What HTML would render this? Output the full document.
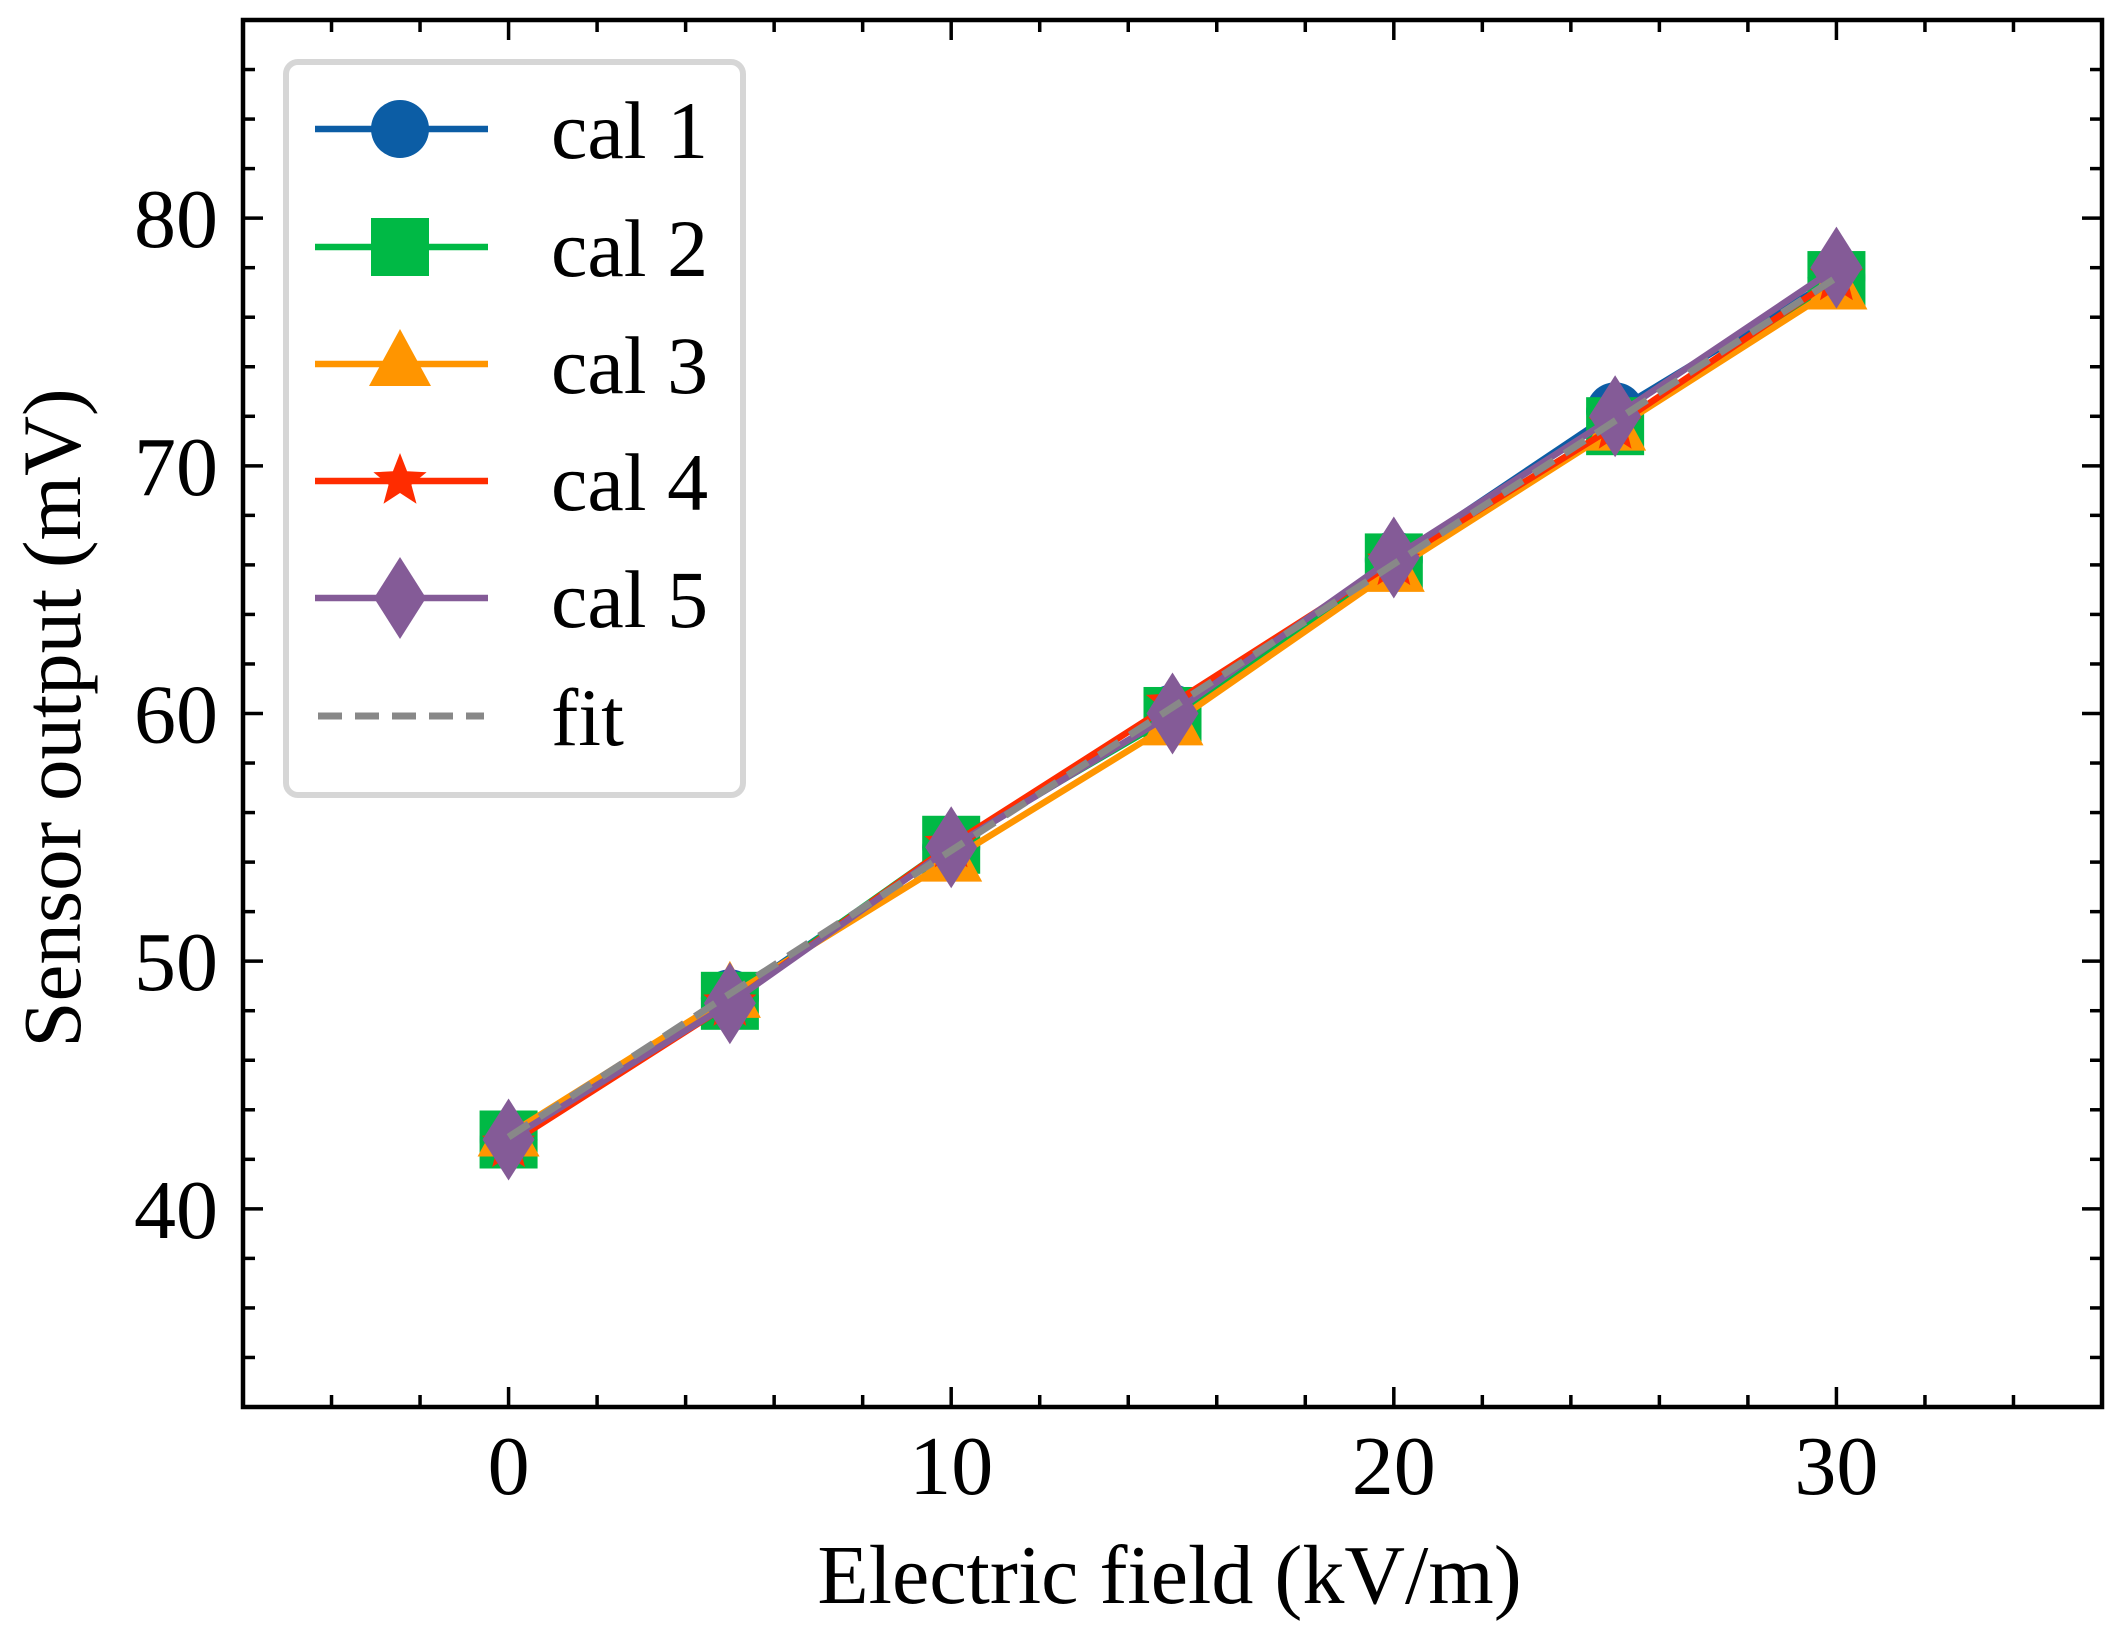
<!DOCTYPE html>
<html><head><meta charset="utf-8"><style>
html,body{margin:0;padding:0;background:#fff;}
svg{display:block;font-family:"Liberation Serif",serif;}
</style></head><body>
<svg id="chart" width="2126" height="1636" viewBox="0 0 2126 1636" xmlns="http://www.w3.org/2000/svg">
<g id="marks"></g>
<g id="axes"></g>
<g id="legend"></g>
</svg>
<script>
const xValues = [0, 5, 10, 15, 20, 25, 30];
const cal1 = [42.8, 48.5, 54.6, 60.0, 66.2, 72.2, 77.6];
const cal2 = [42.8, 48.4, 54.7, 59.9, 66.1, 71.6, 77.5];
const cal3 = [43.0, 48.6, 54.1, 59.6, 65.8, 71.5, 77.2];
const cal4 = [42.6, 48.3, 54.7, 60.4, 66.1, 71.6, 77.6];
const cal5 = [42.8, 48.3, 54.6, 60.0, 66.3, 72.0, 78.0];
const fitX = [0, 30];
const fitY = [42.9, 77.6];
const seriesNames = ["cal 1", "cal 2", "cal 3", "cal 4", "cal 5"];
const xTicks = [0, 10, 20, 30];
const yTicks = [40, 50, 60, 70, 80];

const NS = "http://www.w3.org/2000/svg";
const L = 243, R = 2102, T = 20, B = 1407;
const XMIN = -6, XMAX = 36, YMIN = 32, YMAX = 88;
function sx(v){ return L + (v - XMIN) * (R - L) / (XMAX - XMIN); }
function sy(v){ return B - (v - YMIN) * (B - T) / (YMAX - YMIN); }
function mk(tag, attrs, parent){
  const e = document.createElementNS(NS, tag);
  for (const k in attrs) e.setAttribute(k, attrs[k]);
  parent.appendChild(e); return e;
}
const colors = ["#0C5DA5", "#00B945", "#FF9500", "#FF2C00", "#845B97"];
const shapes = ["circle", "square", "triangle", "star", "diamond"];
function marker(shape, cx, cy, color, parent){
  let el;
  if (shape === "circle") el = mk("circle", {cx: cx, cy: cy, r: 29, fill: color}, parent);
  else if (shape === "square") el = mk("rect", {x: cx-29, y: cy-29, width: 58, height: 58, fill: color}, parent);
  else if (shape === "triangle") el = mk("polygon", {points: `${cx},${cy-35} ${cx+31},${cy+22} ${cx-31},${cy+22}`, fill: color}, parent);
  else if (shape === "star") {
    let p = [];
    for (let i = 0; i < 10; i++) {
      const r = i % 2 ? 12 : 28, a = -Math.PI/2 + i*Math.PI/5;
      p.push((cx + r*Math.cos(a)).toFixed(1) + "," + (cy + r*Math.sin(a)).toFixed(1));
    }
    el = mk("polygon", {points: p.join(" "), fill: color}, parent);
  } else el = mk("polygon", {points: `${cx},${cy-41} ${cx+26},${cy} ${cx},${cy+41} ${cx-26},${cy}`, fill: color}, parent);
  return el;
}
const marks = document.getElementById("marks");
const allSeries = [cal1, cal2, cal3, cal4, cal5];
allSeries.forEach((ys, si) => {
  const g = mk("g", {}, marks);
  
  
  const pts = ys.map((y, i) => sx(xValues[i]).toFixed(1) + "," + sy(y).toFixed(1)).join(" ");
  const line = mk("polyline", {points: pts, fill: "none", stroke: colors[si], "stroke-width": 6.5, "stroke-linejoin": "round"}, g);
  
  
  ys.forEach((y, i) => {
    const m = marker(shapes[si], sx(xValues[i]), sy(y), colors[si], g);
    
    
  });
});
const fit = mk("line", {x1: sx(fitX[0]), y1: sy(fitY[0]), x2: sx(fitX[1]), y2: sy(fitY[1]), stroke: "#888888", "stroke-width": 7, "stroke-dasharray": "24,13"}, marks);



const axes = document.getElementById("axes");
const frame = mk("rect", {x: L, y: T, width: R-L, height: B-T, fill: "none", stroke: "#000", "stroke-width": 4.5}, axes);


for (let v = -4; v <= 34; v += 2) {
  const major = v % 10 === 0, len = major ? 20 : 12;
  mk("line", {x1: sx(v), y1: B, x2: sx(v), y2: B-len, stroke: "#000", "stroke-width": 3.5}, axes);
  mk("line", {x1: sx(v), y1: T, x2: sx(v), y2: T+len, stroke: "#000", "stroke-width": 3.5}, axes);
}
for (let v = 34; v <= 86; v += 2) {
  const major = v % 10 === 0, len = major ? 20 : 12;
  mk("line", {x1: L, y1: sy(v), x2: L+len, y2: sy(v), stroke: "#000", "stroke-width": 3.5}, axes);
  mk("line", {x1: R, y1: sy(v), x2: R-len, y2: sy(v), stroke: "#000", "stroke-width": 3.5}, axes);
}
xTicks.forEach(v => {
  const t = mk("text", {x: sx(v), y: 1494, "font-size": 84, "text-anchor": "middle", fill: "#000"}, axes);
  t.textContent = v;
  
  
});
yTicks.forEach(v => {
  const t = mk("text", {x: 218, y: sy(v) + 29, "font-size": 84, "text-anchor": "end", fill: "#000"}, axes);
  t.textContent = v;
  
  
});
const xl = mk("text", {x: (L+R)/2 - 3, y: 1603, "font-size": 84, "text-anchor": "middle", fill: "#000"}, axes);
xl.textContent = "Electric field (kV/m)";


const yl = mk("text", {x: 0, y: 0, "font-size": 83, "text-anchor": "middle", fill: "#000", transform: "translate(80,718) rotate(-90)"}, axes);
yl.textContent = "Sensor output (mV)";



const legend = document.getElementById("legend");
const box = mk("rect", {x: 286, y: 62, width: 457, height: 733, rx: 12, fill: "#fff", stroke: "#d6d6d6", "stroke-width": 6}, legend);


const ly = [129, 247, 364, 481, 598, 716];
seriesNames.concat(["fit"]).forEach((name, i) => {
  const g = mk("g", {}, legend);
  
  
  if (i < 5) {
    mk("line", {x1: 315, y1: ly[i], x2: 488, y2: ly[i], stroke: colors[i], "stroke-width": 6.5}, g);
    marker(shapes[i], 400, ly[i], colors[i], g);
  } else {
    mk("line", {x1: 318, y1: ly[i], x2: 484, y2: ly[i], stroke: "#888888", "stroke-width": 7, "stroke-dasharray": "24,13"}, g);
  }
  const t = mk("text", {x: 551, y: ly[i] + 29, "font-size": 82, fill: "#000"}, g);
  t.textContent = name;
});
</script>
</body></html>
